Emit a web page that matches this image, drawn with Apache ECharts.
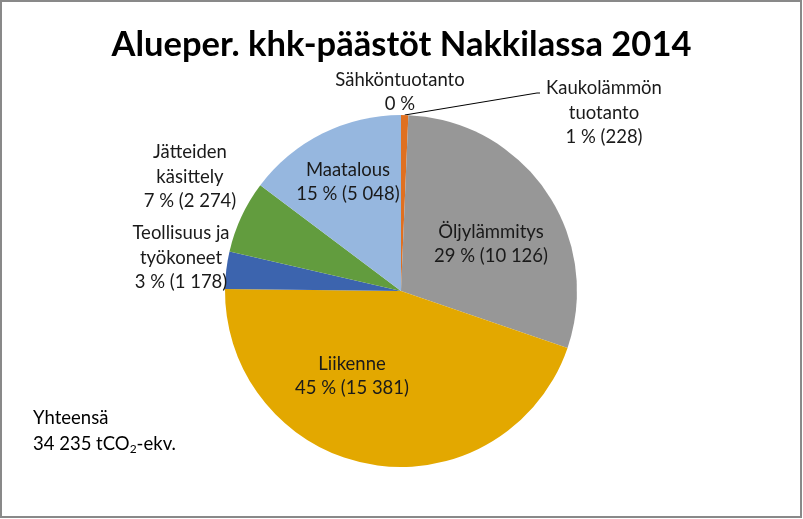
<!DOCTYPE html>
<html>
<head>
<meta charset="utf-8">
<script src="https://cdn.jsdelivr.net/npm/echarts@6/dist/echarts.min.js"></script>
<style>
html,body{margin:0;padding:0;background:#fff;}
#main{width:803px;height:519px;}
</style>
</head>
<body>
<div id="main"></div>
<script>
// ---- data ----
const titleText = 'Alueper. khk-päästöt Nakkilassa 2014';
const categories = ['Sähköntuotanto', 'Kaukolämmön tuotanto', 'Öljylämmitys', 'Liikenne', 'Teollisuus ja työkoneet', 'Jätteiden käsittely', 'Maatalous'];
const labelNames = ['Sähköntuotanto', 'Kaukolämmön\ntuotanto', 'Öljylämmitys', 'Liikenne', 'Teollisuus ja\ntyökoneet', 'Jätteiden\nkäsittely', 'Maatalous'];
const values = [0, 228, 10126, 15381, 1178, 2274, 5048];
const percents = [0, 1, 29, 45, 3, 7, 15];
const totalLine1 = 'Yhteensä';
const totalValue = '34 235';

// ---- styles / layout ----
const colors = ['#5B9BD5', '#E07020', '#979797', '#E3A800', '#3C64AE', '#629C3E', '#96B7DF'];
const labelPos = [[400, 92], [604, 113], [491, 244], [352, 376], [181, 258], [190, 177], [348, 182]];
const FONT = 'Lato';

function fmt(n) { return String(n).replace(/\B(?=(\d{3})+(?!\d))/g, ' '); }

const total = values.reduce((a, b) => a + b, 0);
const center = [401, 291];
const radius = 176;

function outerMid(i) {
  let cum = 0;
  for (let k = 0; k < i; k++) cum += values[k];
  const frac = (cum + values[i] / 2) / total;
  const ang = frac * 2 * Math.PI;
  return [center[0] + radius * Math.sin(ang), center[1] - radius * Math.cos(ang)];
}

const data = categories.map((c, i) => ({
  name: c,
  value: values[i],
  itemStyle: { color: colors[i] },
  labelLine: { show: i === 1, lineStyle: { color: '#000', width: 1 } }
}));

const chart = echarts.init(document.getElementById('main'));
chart.setOption({
  animation: false,
  title: {
    text: titleText,
    left: 'center',
    top: 22,
    textStyle: { fontFamily: FONT, fontWeight: 'bold', fontSize: 34.5, color: '#000' }
  },
  series: [{
    type: 'pie',
    center: center,
    radius: radius,
    startAngle: 90,
    clockwise: true,
    data: data,
    itemStyle: { borderWidth: 0 },
    label: {
      show: true,
      position: 'outside',
      fontFamily: FONT,
      fontSize: 18.5,
      lineHeight: 24.5,
      color: '#1a1a1a',
      align: 'center',
      formatter: function (p) {
        const i = p.dataIndex;
        if (values[i] === 0) return labelNames[i] + '\n' + percents[i] + ' %';
        return labelNames[i] + '\n' + percents[i] + ' % (' + fmt(values[i]) + ')';
      }
    },
    labelLine: { show: false },
    labelLayout: function (p) {
      const i = p.dataIndex;
      const pos = labelPos[i];
      const res = { x: pos[0], y: pos[1], align: 'center', verticalAlign: 'middle' };
      if (i === 1) {
        const s = outerMid(1);
        res.labelLinePoints = [s, [537, 93], [540, 93]];
      }
      return res;
    }
  }],
  graphic: [
    {
      type: 'rect',
      shape: { x: 1, y: 1, width: 800, height: 516 },
      style: { fill: 'none', stroke: '#898989', lineWidth: 2 },
      silent: true
    },
    {
      type: 'text',
      left: 33,
      top: 409,
      style: {
        text: '{a|' + totalLine1 + '}\n{a|' + totalValue + ' tCO}{s|2}{a|-ekv.}',
        rich: {
          a: { fontFamily: FONT, fontSize: 18.5, color: '#1a1a1a', lineHeight: 26 },
          s: { fontFamily: FONT, fontSize: 12, color: '#1a1a1a', lineHeight: 26, padding: [10, 0, 0, 0] }
        }
      }
    }
  ]
});
</script>
</body>
</html>
